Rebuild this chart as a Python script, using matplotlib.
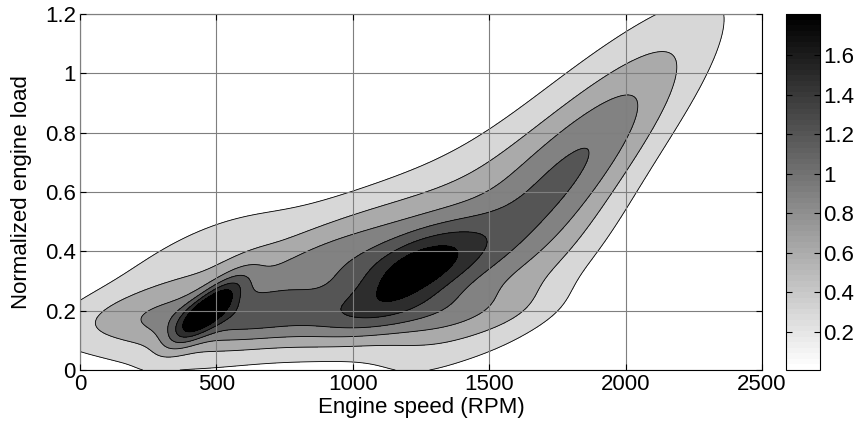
import matplotlib
matplotlib.use('Agg')
import matplotlib.pyplot as plt
import numpy as np

plt.rcParams['font.family'] = ['Liberation Sans', 'DejaVu Sans']

# density blobs: peak height, centre (rpm, load),
# tilt in degrees and spreads (in 1000 rpm / load units)
names = ['peak500', 'peak1250', 'tail', 'tail_upper', 'shoulder', 'band',
         'plateau', 'left', 'left_halo', 'sheet', 'floor']
amp = [1.22, 1.50, 0.90, 0.40, 0.28, 0.62, 0.48, 0.34, 0.35, 0.55, 0.22]
cx = [470, 1230, 1760, 1700, 1750, 870, 850, 320, 350, 900, 900]
cy = [0.205, 0.33, 0.60, 0.75, 0.33, 0.175, 0.33, 0.19, 0.35, 0.38, 0.09]
ang = [40, 25, 46, 42, 45, 3, 22, 5, 27, 24, 5]
s_major = [0.115, 0.20, 0.50, 0.50, 0.30, 0.45, 0.30, 0.28, 0.32, 0.55, 0.40]
s_minor = [0.035, 0.08, 0.11, 0.14, 0.09, 0.06, 0.09, 0.065, 0.09, 0.13, 0.07]

levels = [0.3, 0.6, 0.9, 1.2, 1.5, 1.8]
cb_ticks = [0.2, 0.4, 0.6, 0.8, 1.0, 1.2, 1.4, 1.6]
zmin, zmax = 0.007, 1.81

# grid over engine speed / load
xs = np.linspace(0, 2500, 500)
ys = np.linspace(0, 1.2, 360)
X, Y = np.meshgrid(xs, ys)
U = X / 1000.0
Z = np.zeros_like(X)
for a, mx, my, t, s1, s2 in zip(amp, cx, cy, ang, s_major, s_minor):
    c, s = np.cos(np.radians(t)), np.sin(np.radians(t))
    du = U - mx / 1000.0
    dv = Y - my
    p = (du*c + dv*s) / s1
    q = (-du*s + dv*c) / s2
    Z += a * np.exp(-0.5*(p**2 + q**2))

cmap = plt.get_cmap('gray_r', 64)
norm = plt.Normalize(zmin, zmax)

fig = plt.figure(figsize=(8.58, 4.32), dpi=100)
ax = fig.add_axes([80/858, 62/432, 682/858, 356/432])
cax = fig.add_axes([786/858, 62/432, 34/858, 356/432])

lv = levels + [max(Z.max(), 1.9) + 1]
fill_cols = [cmap(norm(l)) for l in levels]
ax.contourf(X, Y, Z, levels=lv, colors=fill_cols)
ax.contour(X, Y, Z, levels=levels, colors='k', linewidths=0.6)

ax.set_xlim(0, 2500)
ax.set_ylim(0, 1.2)
ax.set_xticks([0, 500, 1000, 1500, 2000, 2500])
ax.set_yticks([0, 0.2, 0.4, 0.6, 0.8, 1.0, 1.2])
ax.set_yticklabels(['0', '0.2', '0.4', '0.6', '0.8', '1', '1.2'])
ax.set_axisbelow(False)
ax.grid(True, color='#7f7f7f', linewidth=0.8)
ax.tick_params(direction='in', top=True, right=True, labelsize=16, length=4, pad=3)
ax.set_xlabel('Engine speed (RPM)', fontsize=16, labelpad=1)
ax.set_ylabel('Normalized engine load', fontsize=16, labelpad=9)

sm = matplotlib.cm.ScalarMappable(norm=norm, cmap=cmap)
cb = fig.colorbar(sm, cax=cax)
cb.set_ticks(cb_ticks)
cb.set_ticklabels(['0.2', '0.4', '0.6', '0.8', '1', '1.2', '1.4', '1.6'])
cax.tick_params(direction='in', left=True, right=True, labelsize=16, length=4, pad=2)

fig.savefig('out.png', dpi=100)
